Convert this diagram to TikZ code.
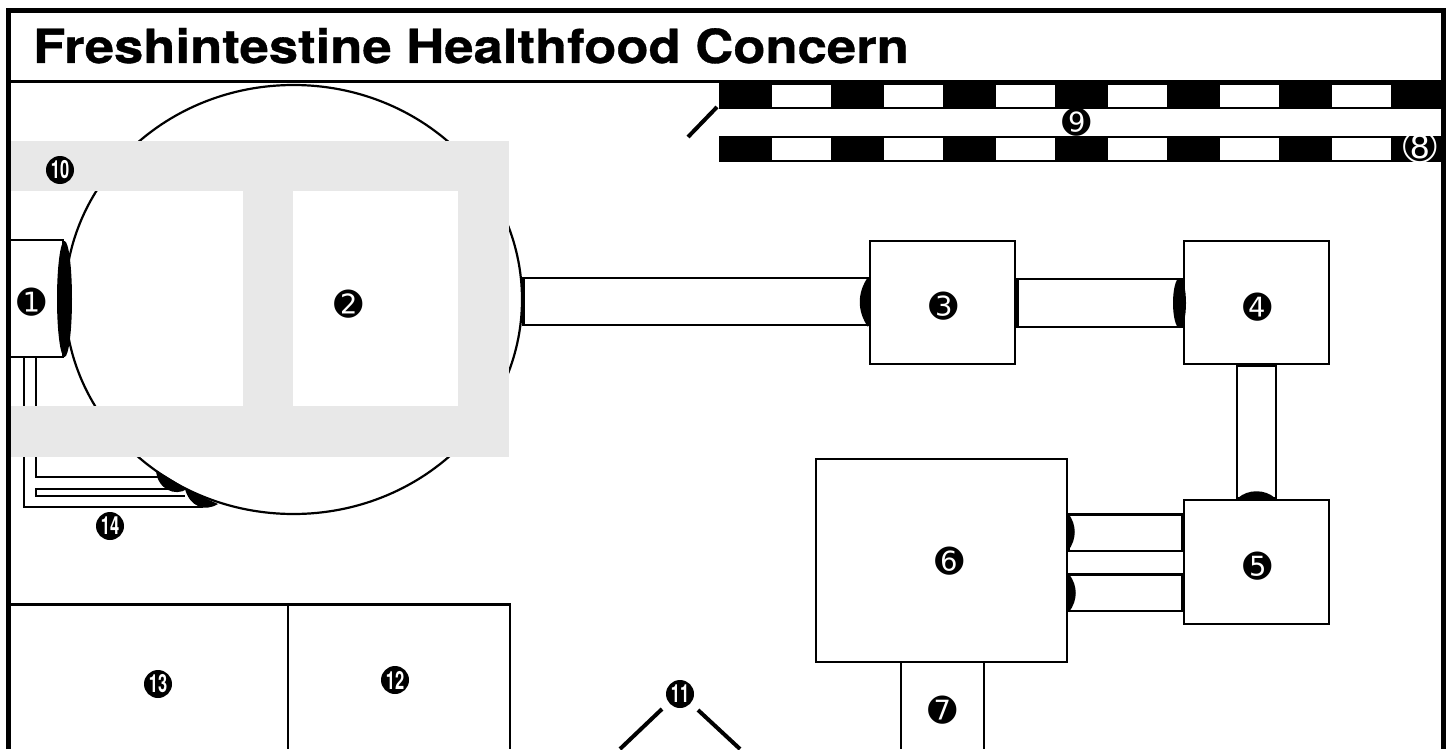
\documentclass[tikz,border=0pt]{standalone}
\usepackage{fontspec}
\setmainfont{TeX Gyre Heros}
\newfontfamily\numfont{DejaVu Sans}
\newfontfamily\titlefont[FakeStretch=1.12,FakeBold=0.7]{TeX Gyre Heros}
\newfontfamily\narrowfont[FakeStretch=0.66]{TeX Gyre Heros}
\usetikzlibrary{positioning}
\usetikzlibrary{shapes.geometric}
\definecolor{bandgray}{HTML}{E8E8E8}
\tikzset{
	unit/.style={draw=black, line width=2.8pt, fill=white, rectangle, inner sep=0pt},
	pipe/.style={draw=black, line width=2.8pt, fill=white},
	thinpipe/.style={draw=black, line width=2pt},
	seal/.style={fill=black, draw=none},
	band/.style={fill=bandgray, draw=none},
	num/.style={font=\numfont\fontsize{34}{34}\selectfont, inner sep=0pt, text=black},
	numdisc/.style={circle, fill=black, text=white, inner sep=0pt, minimum size=28pt, font=\narrowfont\bfseries\fontsize{25}{25}\selectfont},
	wall/.style={line width=4pt, draw=black, line cap=butt},
}
\begin{document}
\begin{tikzpicture}[x=1pt, y=-1pt]
	\useasboundingbox (0,0) rectangle (1447,749);
	% frame and title
	\draw[line width=5pt] (8.5,749) -- (8.5,10.5) -- (1443.5,10.5) -- (1443.5,749);
	\draw[line width=2.2pt] (11,81.5) -- (1441,81.5);
	\node[anchor=base west, inner sep=0pt, font=\titlefont\bfseries\fontsize{47}{47}\selectfont] (title) at (33,63) {Freshintestine Healthfood Concern};
	% fence along the top
	\fill (719,82.5) rectangle (1441,109);
	\fill (719,136) rectangle (1441,162);
	\foreach \x in {772,884,996,1108,1220,1332} {
		\fill[white] (\x,85) rectangle (\x+59,107);
		\fill[white] (\x,138) rectangle (\x+59,160);
	}
	\draw[wall] (717,107) -- (688,137);
	% main tank and the thin pipes under unit 1
	\node[draw=black, line width=2.2pt, ellipse, minimum width=457pt, minimum height=429pt, inner sep=0pt] (tank) at (293.5,299.5) {};
	\draw[thinpipe] (24,357) -- (24,507) -- (203,507);
	\draw[thinpipe] (36,357) -- (36,477) -- (158,477);
	\draw[thinpipe] (185,489) -- (36,489) -- (36,496) -- (185,496);
	\fill[seal] (156,470) .. controls (157,489) and (175,497) .. (187,489) -- cycle;
	\fill[seal] (185,489) .. controls (190,507) and (205,512) .. (218,504) -- cycle;
	% grey walkway
	\fill[band] (11,141) rectangle (509,191);
	\fill[band] (11,406) rectangle (509,457);
	\fill[band] (243,191) rectangle (293,406);
	\fill[band] (458,191) rectangle (509,406);
	% units
	\node[unit, minimum width=145pt, minimum height=123pt] (box3) at (942.5,302.5) {};
	\node[unit, minimum width=145pt, minimum height=123pt] (box4) at (1256.5,302.5) {};
	\node[unit, minimum width=145pt, minimum height=124pt] (box5) at (1256.5,562) {};
	\node[unit, minimum width=251pt, minimum height=203pt] (box6) at (941.5,560.5) {};
	\node[unit, minimum width=53pt, minimum height=117pt] (box1) at (36.5,298.5) {};
	\coordinate (base7a) at (901,749);
	\coordinate (base7b) at (984,749);
	% pipes between units
	\draw[pipe] ([yshift=21.5pt]tank.east) rectangle ([yshift=-22.5pt]box3.west);
	\draw[pipe] ([xshift=1pt,yshift=23.5pt]box3.east) rectangle ([yshift=-24.5pt]box4.west);
	\draw[pipe] ([xshift=-19.5pt]box4.south) rectangle ([xshift=19.5pt]box5.north);
	\draw[pipe] ([yshift=47.5pt]box5.west) rectangle ([yshift=9.5pt]box6.east);
	\draw[pipe] ([yshift=-12.5pt]box5.west) rectangle ([yshift=-50.5pt]box6.east);
	\draw[pipe] ([xshift=-40.5pt]box6.south) -- (base7a);
	\draw[pipe] ([xshift=42.5pt]box6.south) -- (base7b);
	% seals where the pipes enter
	\fill[seal] (64.5,299) ellipse (7.5 and 58);
	\fill[seal] (868,277) .. controls (857,293) and (857,311) .. (868,327) -- cycle;
	\fill[seal] (1179.5,303) ellipse (6.5 and 25);
	\fill[seal] (1238,498) .. controls (1248,489) and (1265,489) .. (1275,498) -- cycle;
	\fill[seal] (1068,513) .. controls (1077,525) and (1077,539) .. (1068,551) -- cycle;
	\fill[seal] (1069,574) .. controls (1078,586) and (1078,600) .. (1069,612) -- cycle;
	% rooms at the bottom
	\draw[line width=2.8pt] (11,604.5) -- (510,604.5) -- (510,749);
	\draw[line width=2.2pt] (288,604.5) -- (288,749);
	\draw[wall] (662,709) -- (620,749);
	\draw[wall] (698,710) -- (740,749);
	% numbers
	\node[num] (n1) at (32,302) {➊};
	\node[num] (n2) at (349,304) {➋};
	\node[num] (n3) at (944,306) {➌};
	\node[num] (n4) at (1258,307) {➍};
	\node[num] (n5) at (1258,566) {➎};
	\node[num] (n6) at (950,561) {➏};
	\node[num] (n7) at (943,710) {➐};
	\node[num, text=white, font=\numfont\fontsize{40}{40}\selectfont] (n8) at (1420,147) {➇};
	\node[num] (n9) at (1077,122) {➒};
	\node[numdisc] (n10) at (60,170) {10};
	\node[numdisc] (n11) at (680,694) {11};
	\node[numdisc] (n12) at (395,680) {12};
	\node[numdisc] (n13) at (158,684) {13};
	\node[numdisc] (n14) at (110,526) {14};
\end{tikzpicture}
\end{document}
